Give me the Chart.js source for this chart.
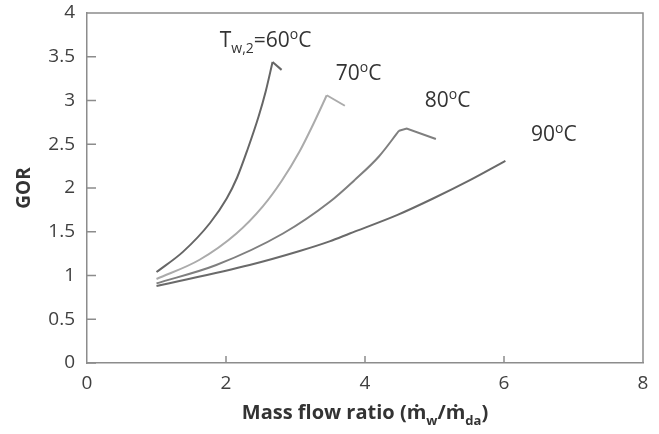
<!DOCTYPE html>
<html>
<head>
<meta charset="utf-8">
<script src="https://cdn.jsdelivr.net/npm/chart.js@4"></script>
<style>
  html, body { margin: 0; padding: 0; background: #fff; }
  #wrap { width: 659px; height: 434px; }
</style>
</head>
<body>
<div id="wrap"><canvas id="gorChart" width="659" height="434"></canvas></div>
<script>
// datos
const x60 = [1.0, 1.38, 1.77, 2.01, 2.16, 2.31, 2.47, 2.57, 2.67];
const y60 = [1.04, 1.27, 1.60, 1.88, 2.12, 2.44, 2.82, 3.10, 3.44];
const x60tail = [2.67, 2.80];
const y60tail = [3.44, 3.35];

const x70 = [1.0, 1.62, 2.15, 2.53, 2.80, 3.06, 3.25, 3.45];
const y70 = [0.96, 1.18, 1.48, 1.79, 2.08, 2.42, 2.72, 3.06];
const x70tail = [3.45, 3.71];
const y70tail = [3.06, 2.94];

const x80 = [1.0, 1.86, 2.82, 3.49, 3.85, 4.20, 4.49];
const y80 = [0.91, 1.12, 1.48, 1.84, 2.09, 2.36, 2.655];
const x80tail = [4.49, 4.60, 5.02];
const y80tail = [2.655, 2.68, 2.56];

const x90 = [1.0, 2.34, 3.06, 3.49, 3.78, 4.46, 4.98, 5.51, 6.02];
const y90 = [0.88, 1.12, 1.28, 1.39, 1.48, 1.69, 1.88, 2.09, 2.31];

const xTicks = [0, 2, 4, 6, 8];
const yTicks = [0, 0.5, 1, 1.5, 2, 2.5, 3, 3.5, 4];

// etiquetas de las curvas (posicion en unidades de datos)
const curveLabels = [
  { parts: [["T", 0], ["w,2", 1], ["=60", 0], ["o", 2], ["C", 0]], x: 1.91, y: 3.61 },
  { parts: [["70", 0], ["o", 2], ["C", 0]], x: 3.58, y: 3.23 },
  { parts: [["80", 0], ["o", 2], ["C", 0]], x: 4.86, y: 2.93 },
  { parts: [["90", 0], ["o", 2], ["C", 0]], x: 6.39, y: 2.54 }
];

function pts(xs, ys) {
  return xs.map((v, i) => ({ x: v, y: ys[i] }));
}

function serie(xs, ys, color, smooth) {
  return {
    data: pts(xs, ys),
    showLine: true,
    borderColor: color,
    borderWidth: 2,
    pointRadius: 0,
    fill: false,
    tension: smooth ? 0.4 : 0,
    cubicInterpolationMode: smooth ? 'monotone' : 'default'
  };
}

const FONT = '"Open Sans", "DejaVu Sans", sans-serif';

// texto con sub/superindices: 0 normal, 1 subindice, 2 superindice
function drawRich(ctx, parts, x, y, size, bold, measureOnly) {
  let cx = x;
  parts.forEach(p => {
    const kind = p[1];
    const s = kind === 0 ? size : Math.round(size * 0.65);
    ctx.font = (bold ? 'bold ' : '') + s + 'px ' + FONT;
    const dy = kind === 1 ? size * 0.28 : (kind === 2 ? -size * 0.38 : 0);
    if (!measureOnly) ctx.fillText(p[0], cx, y + dy);
    cx += ctx.measureText(p[0]).width;
  });
  return cx - x;
}

const extras = {
  id: 'extras',
  afterDraw(chart) {
    const ctx = chart.ctx;
    const a = chart.chartArea;
    const xs = chart.scales.x, ys = chart.scales.y;
    ctx.save();

    // marco y marcas hacia adentro
    ctx.strokeStyle = '#8c8c8c';
    ctx.lineWidth = 1.5;
    ctx.beginPath();
    ctx.moveTo(a.left, a.top); ctx.lineTo(a.right, a.top); ctx.lineTo(a.right, a.bottom);
    yTicks.forEach(v => {
      const py = ys.getPixelForValue(v);
      ctx.moveTo(a.left, py); ctx.lineTo(a.left + 9, py);
    });
    xTicks.slice(1, -1).forEach(v => {
      const px = xs.getPixelForValue(v);
      ctx.moveTo(px, a.bottom); ctx.lineTo(px, a.bottom - 7);
    });
    ctx.stroke();

    // etiquetas de temperatura
    ctx.fillStyle = '#333';
    ctx.textBaseline = 'alphabetic';
    ctx.textAlign = 'left';
    curveLabels.forEach(l => {
      drawRich(ctx, l.parts, xs.getPixelForValue(l.x), ys.getPixelForValue(l.y), 21, false);
    });

    // titulo eje x
    const xt = [["Mass flow ratio (\u1E41", 0], ["w", 1], ["/\u1E41", 0], ["da", 1], [")", 0]];
    const w = drawRich(ctx, xt, 0, 0, 20, true, true);
    drawRich(ctx, xt, (a.left + a.right) / 2 - w / 2, 419, 20, true);

    // titulo eje y
    ctx.translate(25, (a.top + a.bottom) / 2);
    ctx.rotate(-Math.PI / 2);
    ctx.textAlign = 'center';
    ctx.textBaseline = 'middle';
    ctx.font = 'bold 19px ' + FONT;
    ctx.fillText('GOR', 0, 0);
    ctx.restore();
  }
};

const ctx = document.getElementById('gorChart').getContext('2d');
const chart = new Chart(ctx, {
  type: 'scatter',
  data: {
    datasets: [
      serie(x60, y60, '#666666', true),
      serie(x60tail, y60tail, '#666666', false),
      serie(x70, y70, '#ababab', true),
      serie(x70tail, y70tail, '#ababab', false),
      serie(x80, y80, '#7f7f7f', true),
      serie(x80tail, y80tail, '#7f7f7f', false),
      serie(x90, y90, '#6a6a6a', true)
    ]
  },
  options: {
    responsive: false,
    animation: false,
    layout: { padding: { top: 13, right: 16, left: 0, bottom: 0 } },
    plugins: { legend: { display: false }, tooltip: { enabled: false } },
    scales: {
      x: {
        type: 'linear', min: 0, max: 8,
        afterBuildTicks: s => { s.ticks = xTicks.map(v => ({ value: v })); },
        afterFit: s => { s.height = 71; s.paddingLeft = 0; s.paddingRight = 0; },
        grid: { display: false, drawTicks: false },
        border: { display: true, color: '#8c8c8c', width: 1.5 },
        ticks: { padding: 9, color: '#404040', font: { family: FONT, size: 19 }, callback: v => String(v) }
      },
      y: {
        type: 'linear', min: 0, max: 4,
        afterBuildTicks: s => { s.ticks = yTicks.map(v => ({ value: v })); },
        afterFit: s => { s.width = 87; s.paddingTop = 0; s.paddingBottom = 0; },
        grid: { display: false, drawTicks: false },
        border: { display: true, color: '#8c8c8c', width: 1.5 },
        ticks: { padding: 12, color: '#404040', font: { family: FONT, size: 19 }, callback: v => String(v) }
      }
    }
  },
  plugins: [extras]
});
</script>
</body>
</html>
